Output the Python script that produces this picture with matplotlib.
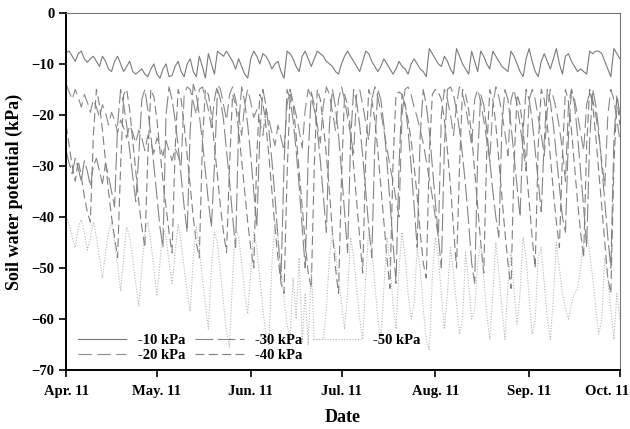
import numpy as np
import pandas as pd
import matplotlib
matplotlib.use("Agg")
import matplotlib.pyplot as plt
import matplotlib.dates as mdates
from matplotlib.transforms import ScaledTranslation

START_DATE = "2011-04-01"

# daily soil water potential (kPa) for each irrigation threshold
kpa10 = [-7.8, -7.5, -8.5, -9.5, -8.0, -7.5, -9.0, -9.7, -9.0, -8.5,
         -9.5, -10.5, -8.5, -9.5, -11.0, -11.5, -9.5, -8.5, -10.0, -11.5,
         -10.5, -9.5, -11.5, -12.0, -11.5, -11.0, -12.0, -12.5, -11.0, -10.0,
         -12.0, -12.8, -11.0, -10.0, -12.5, -12.3, -10.5, -9.5, -11.5, -12.5,
         -10.0, -9.0, -11.5, -12.5, -8.5, -10.5, -12.8, -8.0, -10.0, -12.0,
         -7.5, -8.0, -8.5, -7.5, -8.5, -9.5, -11.0, -9.0, -10.5, -12.0,
         -12.8, -9.0, -7.5, -8.5, -10.0, -8.0, -8.5, -9.5, -11.0, -10.0,
         -9.5, -11.5, -12.8, -7.5, -8.0, -9.0, -10.5, -11.5, -8.5, -7.5,
         -9.0, -10.5, -9.0, -7.5, -8.0, -8.5, -9.5, -10.0, -10.5, -11.5,
         -12.0, -10.0, -8.5, -7.5, -8.5, -9.5, -10.5, -11.5, -9.5, -7.5,
         -8.0, -9.5, -10.5, -11.5, -10.5, -9.0, -10.0, -11.0, -12.0, -11.0,
         -9.5, -10.5, -11.0, -12.0, -10.0, -9.0, -10.0, -11.0, -11.5, -12.5,
         -7.0, -8.0, -9.0, -10.0, -10.5, -8.5, -9.5, -11.0, -12.0, -7.0,
         -8.5, -10.0, -11.0, -12.0, -7.5, -9.5, -11.5, -7.5, -8.5, -10.0,
         -11.0, -7.5, -8.5, -9.5, -10.5, -11.0, -11.5, -7.5, -8.5, -10.0,
         -11.5, -12.5, -9.0, -7.0, -9.5, -11.5, -12.5, -9.5, -8.0, -9.5,
         -11.0, -9.0, -7.0, -10.0, -12.0, -8.5, -8.0, -9.5, -10.5, -11.5,
         -11.0, -11.5, -12.0, -7.5, -8.0, -7.5, -7.5, -8.0, -9.5, -11.0,
         -12.5, -7.0, -8.0, -9.0]

kpa20 = [-14.0, -15.5, -17.0, -15.0, -16.5, -18.5, -16.0, -17.5, -19.5, -17.0,
         -18.5, -20.5, -18.0, -19.5, -22.0, -19.5, -21.0, -23.5, -21.0, -22.5,
         -24.5, -22.0, -23.5, -25.5, -23.0, -24.5, -27.0, -24.0, -25.5, -27.5,
         -24.5, -26.0, -28.0, -25.0, -27.0, -29.0, -26.5, -28.0, -30.0, -16.0,
         -14.5, -15.0, -17.5, -20.0, -15.0, -14.5, -16.5, -19.0, -22.5, -17.0,
         -14.0, -15.0, -18.0, -21.0, -16.0, -14.5, -17.0, -20.0, -24.0, -18.0,
         -15.0, -17.5, -20.5, -19.0, -21.5, -24.0, -19.0, -21.0, -23.5, -26.0,
         -22.0, -24.5, -27.0, -18.0, -15.0, -17.5, -20.0, -23.0, -26.5, -19.0,
         -15.0, -16.5, -19.0, -22.0, -25.5, -18.0, -14.5, -16.0, -19.5, -23.0,
         -17.0, -14.5, -17.0, -20.5, -24.0, -27.5, -16.0, -15.0, -18.0, -21.5,
         -25.0, -17.0, -14.5, -16.5, -19.5, -23.0, -26.5, -30.0, -33.0, -36.5,
         -40.0, -20.0, -15.0, -14.5, -16.0, -18.5, -20.5, -23.0, -25.5, -29.0,
         -32.5, -36.0, -40.0, -44.0, -20.0, -15.0, -17.0, -20.0, -24.0, -18.0,
         -14.5, -16.0, -18.5, -22.0, -26.0, -17.0, -15.0, -17.5, -21.0, -25.0,
         -29.0, -18.0, -14.5, -16.5, -19.5, -23.5, -28.0, -17.0, -15.0, -18.0,
         -22.0, -26.5, -31.0, -17.0, -15.0, -17.0, -20.5, -24.0, -28.0, -19.0,
         -15.0, -16.5, -19.0, -22.5, -27.0, -33.0, -18.0, -15.0, -17.0, -20.0,
         -23.5, -27.0, -18.0, -15.5, -17.0, -20.0, -24.0, -29.0, -34.0, -20.0,
         -15.0, -17.0, -21.0, -25.0]

kpa30 = [-27.0, -29.5, -31.5, -28.5, -30.5, -33.0, -29.0, -31.0, -34.0, -30.0,
         -28.5, -31.0, -33.5, -29.5, -32.0, -35.0, -38.0, -22.0, -15.0, -18.0,
         -22.0, -27.0, -32.0, -37.0, -28.0, -17.0, -15.0, -19.0, -24.0, -30.0,
         -36.0, -42.0, -46.0, -20.0, -14.5, -17.0, -21.0, -26.0, -32.0, -38.0,
         -43.0, -23.0, -14.0, -16.0, -20.0, -25.0, -31.0, -37.0, -42.0, -30.0,
         -15.0, -17.0, -21.0, -27.0, -33.0, -40.0, -46.0, -22.0, -14.5, -17.5,
         -22.0, -28.0, -35.0, -42.0, -24.0, -15.0, -18.0, -23.0, -29.0, -36.0,
         -44.0, -52.0, -30.0, -15.0, -17.0, -21.0, -27.0, -34.0, -42.0, -50.0,
         -28.0, -15.5, -18.0, -23.0, -29.0, -36.0, -43.0, -22.0, -15.0, -18.5,
         -24.0, -31.0, -39.0, -47.0, -25.0, -15.0, -17.5, -22.0, -28.0, -35.0,
         -42.0, -48.0, -26.0, -15.0, -17.0, -22.0, -29.0, -37.0, -45.0, -53.0,
         -30.0, -16.0, -18.0, -23.0, -30.0, -38.0, -46.0, -24.0, -15.0, -18.0,
         -23.0, -30.0, -37.0, -44.0, -50.0, -26.0, -15.0, -14.5, -16.0, -19.0,
         -23.0, -28.0, -34.0, -41.0, -49.0, -53.0, -28.0, -16.0, -18.0, -23.0,
         -29.0, -35.0, -40.0, -44.0, -22.0, -15.0, -17.0, -22.0, -28.0, -34.0,
         -40.0, -23.0, -15.0, -17.0, -21.0, -27.0, -33.0, -39.0, -25.0, -15.0,
         -17.5, -22.0, -28.0, -34.0, -40.0, -43.0, -24.0, -15.0, -18.0, -24.0,
         -31.0, -38.0, -46.0, -25.0, -15.0, -18.0, -23.0, -30.0, -37.0, -44.0,
         -50.0, -25.0, -16.0, -20.0]

kpa40 = [-22.0, -26.0, -30.0, -33.0, -29.0, -32.0, -36.0, -39.0, -41.0, -24.0,
         -15.0, -18.0, -23.0, -29.0, -35.0, -40.0, -44.0, -48.0, -30.0, -16.0,
         -15.0, -19.0, -25.0, -31.0, -37.0, -42.0, -46.0, -28.0, -15.0, -16.5,
         -21.0, -27.0, -33.0, -38.0, -43.0, -47.0, -27.0, -15.0, -17.0, -22.0,
         -28.0, -34.0, -40.0, -45.0, -48.0, -26.0, -15.0, -16.0, -20.0, -26.0,
         -32.0, -38.0, -43.0, -47.0, -30.0, -16.0, -18.0, -23.0, -29.0, -35.0,
         -41.0, -46.0, -50.0, -28.0, -16.0, -17.5, -22.0, -28.0, -35.0, -42.0,
         -48.0, -53.0, -55.0, -32.0, -16.0, -18.0, -24.0, -31.0, -38.0, -45.0,
         -51.0, -54.0, -30.0, -15.0, -17.0, -22.0, -28.0, -35.0, -43.0, -50.0,
         -55.0, -32.0, -16.0, -18.0, -23.0, -30.0, -37.0, -44.0, -51.0, -28.0,
         -15.0, -17.0, -21.0, -27.0, -34.0, -41.0, -48.0, -54.0, -30.0, -16.0,
         -15.5, -16.0, -18.0, -21.0, -25.0, -30.0, -36.0, -43.0, -49.0, -52.0,
         -28.0, -16.0, -15.0, -15.5, -17.0, -21.0, -27.0, -34.0, -42.0, -50.0,
         -30.0, -15.0, -16.0, -19.0, -24.0, -31.0, -38.0, -45.0, -51.0, -27.0,
         -15.0, -17.0, -22.0, -29.0, -36.0, -43.0, -49.0, -54.0, -30.0, -16.0,
         -18.0, -23.0, -30.0, -37.0, -44.0, -50.0, -26.0, -15.0, -17.0, -22.0,
         -28.0, -35.0, -41.0, -46.0, -28.0, -15.0, -17.5, -23.0, -30.0, -37.0,
         -43.0, -48.0, -26.0, -15.0, -18.0, -24.0, -31.0, -38.0, -45.0, -52.0,
         -55.0, -30.0, -17.0, -22.0]

kpa50 = [-40.0, -41.5, -44.0, -46.0, -42.0, -40.5, -43.0, -46.5, -44.0, -41.0,
         -44.0, -48.0, -52.0, -47.0, -43.0, -41.0, -45.0, -49.5, -54.5, -48.0,
         -42.0, -44.0, -48.0, -53.0, -57.5, -50.0, -43.0, -41.0, -45.0, -50.0,
         -55.5, -49.0, -42.0, -44.0, -49.0, -53.0, -47.0, -41.5, -45.0, -50.0,
         -55.0, -58.5, -48.0, -42.0, -46.0, -52.0, -57.0, -62.0, -50.0, -43.0,
         -45.0, -51.0, -57.0, -62.5, -65.5, -52.0, -42.0, -44.0, -49.0, -55.0,
         -59.0, -51.0, -43.0, -46.0, -52.0, -58.0, -63.0, -65.0, -49.0, -41.0,
         -44.0, -50.0, -56.0, -61.0, -64.0, -52.0, -60.0, -48.0, -64.5, -55.0,
         -65.0, -50.0, -64.0, -64.0, -64.0, -64.0, -58.0, -48.0, -43.0, -47.0,
         -52.0, -57.0, -62.0, -55.0, -44.0, -48.0, -54.0, -60.0, -64.0, -52.0,
         -42.0, -46.0, -53.0, -60.0, -64.0, -54.0, -44.0, -49.0, -57.0, -62.0,
         -50.0, -43.0, -48.0, -55.0, -60.0, -57.0, -46.0, -50.0, -58.0, -64.0,
         -66.0, -52.0, -44.0, -48.0, -55.0, -62.0, -55.0, -46.0, -51.0, -57.0,
         -63.0, -60.0, -47.0, -53.0, -60.0, -58.0, -49.0, -45.0, -52.0, -59.0,
         -64.0, -55.0, -45.0, -51.0, -58.0, -64.0, -53.0, -47.0, -54.0, -61.0,
         -55.0, -44.0, -48.0, -56.0, -63.0, -60.0, -48.0, -46.0, -53.0, -60.0,
         -64.0, -56.0, -45.0, -50.0, -55.0, -58.0, -60.0, -57.0, -55.0, -54.0,
         -50.0, -45.0, -43.0, -47.0, -52.0, -58.0, -63.0, -60.0, -48.0, -52.0,
         -58.0, -64.0, -55.0, -60.0]

series_labels = ["-10 kPa", "-20 kPa", "-30 kPa", "-40 kPa", "-50 kPa"]


def dates_for(values):
    return pd.date_range(START_DATE, periods=len(values), freq="D")


plt.rcParams['font.family'] = ['Liberation Serif', 'DejaVu Serif']
plt.rcParams['font.weight'] = 'bold'

fig = plt.figure(figsize=(6.3, 4.29), dpi=100)
ax = fig.add_axes([0.105, 0.1375, 0.879, 0.8325])

ax.plot(dates_for(kpa10), kpa10, color='#7a7a7a', linewidth=0.8, label=series_labels[0])
ax.plot(dates_for(kpa20), kpa20, color='#8a8a8a', linewidth=0.8, dashes=(12, 5), label=series_labels[1])
ax.plot(dates_for(kpa30), kpa30, color='#858585', linewidth=0.8, dashes=(16, 4), label=series_labels[2])
ax.plot(dates_for(kpa40), kpa40, color='#7f7f7f', linewidth=0.8, dashes=(8, 4), label=series_labels[3])
ax.plot(dates_for(kpa50), kpa50, color='#b5b5b5', linewidth=0.8, dashes=(1, 1.5), label=series_labels[4])

ax.set_ylim(-70, 0)
ax.set_yticks(np.arange(-70, 1, 10))
ax.set_xlim(pd.Timestamp("2011-04-01"), pd.Timestamp("2011-10-01"))
ax.xaxis.set_major_locator(mdates.MonthLocator())
ax.xaxis.set_major_formatter(mdates.DateFormatter('%b. %y'))

ax.tick_params(axis='both', labelsize=10.5, direction='out', length=5, width=1.2, colors='black')
ax.tick_params(axis='x', pad=6)
for lbl in ax.get_xticklabels() + ax.get_yticklabels():
    lbl.set_fontweight('bold')

# the last date label sits a little left of its tick, as in the original
last = ax.get_xticklabels()[-1]
last.set_transform(last.get_transform() + ScaledTranslation(-9 / 72, 0, fig.dpi_scale_trans))

ax.spines['left'].set_linewidth(1.4)
ax.spines['bottom'].set_linewidth(1.4)
ax.spines['top'].set_color('#777777')
ax.spines['right'].set_color('#777777')
ax.spines['top'].set_linewidth(0.8)
ax.spines['right'].set_linewidth(0.8)

ax.set_xlabel("Date", fontsize=13, fontweight='bold', labelpad=8)
ax.set_ylabel("Soil water potential (kPa)", fontsize=13, fontweight='bold', labelpad=6)

leg = ax.legend(ncol=3, loc='lower left', bbox_to_anchor=(0.011, 0.005), frameon=False,
                borderaxespad=0, fontsize=10.5, handlelength=3.3, handletextpad=0.8,
                columnspacing=0.7, labelspacing=0.15)
for t in leg.get_texts():
    t.set_fontweight('bold')

fig.savefig("out.png", dpi=100)
